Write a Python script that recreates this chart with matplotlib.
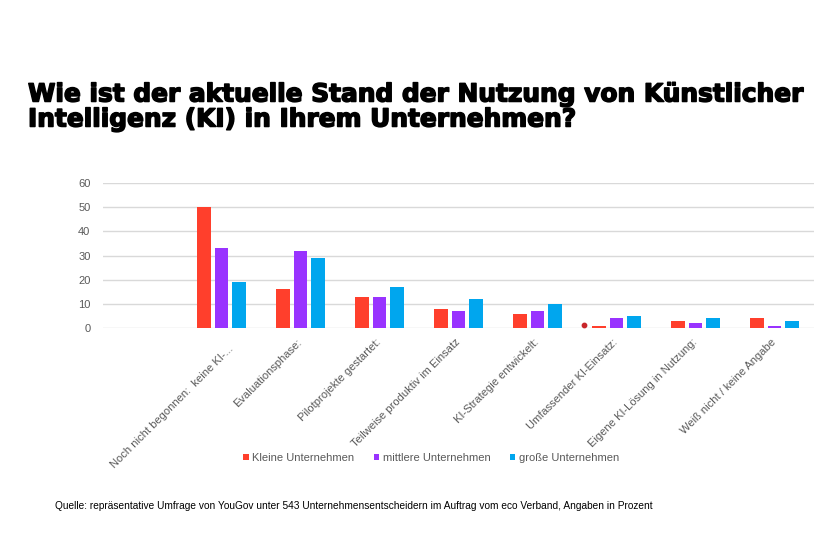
import matplotlib
matplotlib.use("Agg")
import matplotlib.pyplot as plt
import matplotlib.transforms as mtransforms
import matplotlib.patheffects as pe
import numpy as np

# Daten (Prozent), erste Kategorie ist leer wie im Original
kategorien = ["", "Noch nicht begonnen:  keine KI-...", "Evaluationsphase:",
              "Pilotprojekte gestartet:", "Teilweise produktiv im Einsatz",
              "KI-Strategie entwickelt:", "Umfassender KI-Einsatz:",
              "Eigene KI-Lösung in Nutzung:", "Weiß nicht / keine Angabe"]
kleine = [0, 50, 16, 13, 8, 6, 1, 3, 4]
mittlere = [0, 33, 32, 13, 7, 7, 4, 2, 1]
grosse = [0, 19, 29, 17, 12, 10, 5, 4, 3]
serien = ["Kleine Unternehmen", "mittlere Unternehmen", "große Unternehmen"]
farben = ["#FF3F2C", "#9933FF", "#00A6EE"]

# kleiner Punkt bei "Umfassender KI-Einsatz" (so im Original)
punkt_kat = 6
punkt_wert = 1.2

titel1 = "Wie ist der aktuelle Stand der Nutzung von Künstlicher"
titel2 = "Intelligenz (KI) in Ihrem Unternehmen?"
quelle = ("Quelle: repräsentative Umfrage von YouGov unter 543 Unternehmensentscheidern "
          "im Auftrag vom eco Verband, Angaben in Prozent")

plt.rcParams['font.family'] = ['Liberation Sans', 'DejaVu Sans']
grau = "#595959"

fig = plt.figure(figsize=(8.4, 5.6), dpi=100)
ax = fig.add_axes([103/840, 1-328/560, 711/840, 145/560])

x = np.arange(len(kategorien))
breite = 0.17
abstand = 0.22
for i, (werte, name, farbe) in enumerate(zip([kleine, mittlere, grosse], serien, farben)):
    ax.bar(x + (i-1)*abstand, werte, breite, color=farbe, label=name, zorder=3)

ax.scatter([punkt_kat - 2*abstand + 0.03], [punkt_wert], s=10, color="#C8262A", zorder=4)

ax.set_xlim(-0.5, len(kategorien)-0.5)
ax.set_ylim(0, 60)
ax.set_yticks(range(0, 61, 10))
ax.yaxis.grid(True, color="#D9D9D9", linewidth=1, zorder=0)
for s in ax.spines.values():
    s.set_visible(False)
ax.tick_params(axis='both', length=0, colors=grau, labelsize=8)
ax.tick_params(axis='y', pad=9)

ax.set_xticks(x)
ax.set_xticklabels(kategorien, rotation=45, ha='right', va='center',
                   rotation_mode='anchor', color=grau, fontsize=8)
for k, lab in enumerate(ax.get_xticklabels()):
    dx, dy = (10, -14) if k == 1 else (0, -8)
    versatz = mtransforms.ScaledTranslation(dx/100, dy/100, fig.dpi_scale_trans)
    lab.set_transform(lab.get_transform() + versatz)

handles, labels = ax.get_legend_handles_labels()
leg = fig.legend(handles, labels, loc='center', bbox_to_anchor=(431/840, 1-458/560),
                 ncol=3, frameon=False, fontsize=8, handlelength=0.5, handleheight=0.5,
                 handletextpad=0.3, columnspacing=1.75, labelcolor=grau)

# Titel etwas fetter (Original ist Arial Black)
dick = [pe.withStroke(linewidth=1.1, foreground='black')]
fig.text(28/840, 1-101.5/560, titel1, fontsize=17.9, fontweight='bold',
         family='DejaVu Sans', va='baseline', ha='left', color='black', path_effects=dick)
fig.text(28/840, 1-126.5/560, titel2, fontsize=17.9, fontweight='bold',
         family='DejaVu Sans', va='baseline', ha='left', color='black', path_effects=dick)
fig.text(55/840, 1-509/560, quelle, fontsize=7.33, va='baseline', ha='left', color='black')

fig.savefig("out.png", dpi=100, facecolor='white')
